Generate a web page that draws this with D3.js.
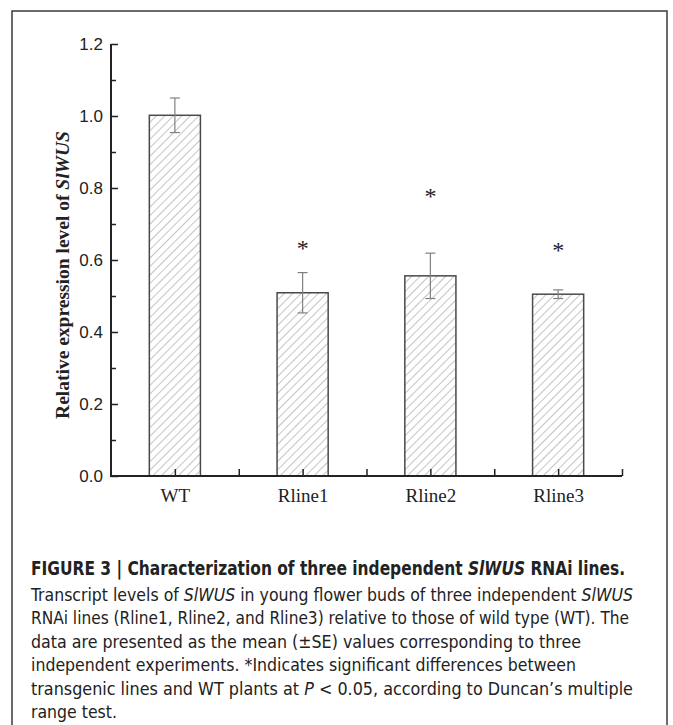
<!DOCTYPE html>
<html>
<head>
<meta charset="utf-8">
<script src="https://cdn.jsdelivr.net/npm/d3@7"></script>
<style>
  body { margin: 0; background: #fff; }
</style>
</head>
<body>
<script>
// chart values
var lines = ["WT", "Rline1", "Rline2", "Rline3"];
var means = [1.002, 0.509, 0.556, 0.505];
var errors = [0.048, 0.056, 0.063, 0.012];
var starAt = [null, 0.645, 0.79, 0.64];
var yTicks = [0.0, 0.2, 0.4, 0.6, 0.8, 1.0, 1.2];
var yMinor = [0.1, 0.3, 0.5, 0.7, 0.9, 1.1];
var xTicks = [1, 1.5, 2, 2.5, 3, 3.5, 4, 4.5];

var caption = [
  "Transcript levels of <i>SlWUS</i> in young flower buds of three independent <i>SlWUS</i>",
  "RNAi lines (Rline1, Rline2, and Rline3) relative to those of wild type (WT). The",
  "data are presented as the mean (±SE) values corresponding to three",
  "independent experiments. *Indicates significant differences between",
  "transgenic lines and WT plants at <i>P</i> &lt; 0.05, according to Duncan’s multiple",
  "range test."
];
var captionWidth = [602, 598, 550, 545, 602, 86];

var svg = d3.select("body").append("svg")
    .attr("width", 673)
    .attr("height", 725);

// hatch for the bars
var pat = svg.append("defs").append("pattern")
    .attr("id", "hatch")
    .attr("patternUnits", "userSpaceOnUse")
    .attr("width", 6)
    .attr("height", 6)
    .attr("patternTransform", "rotate(45)");
pat.append("rect").attr("width", 6).attr("height", 6).attr("fill", "#fff");
pat.append("line")
    .attr("x1", 0).attr("y1", 0).attr("x2", 0).attr("y2", 6)
    .attr("stroke", "#8a8a8a")
    .attr("stroke-width", 1);

svg.append("rect")
    .attr("x", 12).attr("y", 11)
    .attr("width", 655).attr("height", 740)
    .attr("fill", "none")
    .attr("stroke", "#3a3a3a")
    .attr("stroke-width", 1.5);

var x = d3.scaleLinear().domain([0.5, 4.5]).range([111, 622]);
var y = d3.scaleLinear().domain([0, 1.2]).range([476, 44]);
var barW = x(0.4) - x(0);

var g = svg.append("g");

// bars
g.selectAll("rect.bar")
    .data(means)
    .enter()
    .append("rect")
    .attr("class", "bar")
    .attr("x", function(d, i) { return x(i + 1) - barW / 2; })
    .attr("y", function(d) { return y(d); })
    .attr("width", barW)
    .attr("height", function(d) { return y(0) - y(d); })
    .attr("fill", "url(#hatch)")
    .attr("stroke", "#4a4a4a")
    .attr("stroke-width", 1.5);

// error bars
var eb = g.selectAll("g.err")
    .data(means)
    .enter()
    .append("g")
    .attr("class", "err")
    .attr("stroke", "#808080")
    .attr("stroke-width", 1.2);
eb.append("line")
    .attr("x1", function(d, i) { return x(i + 1); })
    .attr("x2", function(d, i) { return x(i + 1); })
    .attr("y1", function(d, i) { return y(d + errors[i]); })
    .attr("y2", function(d, i) { return y(d - errors[i]); });
eb.append("line")
    .attr("x1", function(d, i) { return x(i + 1) - 5; })
    .attr("x2", function(d, i) { return x(i + 1) + 5; })
    .attr("y1", function(d, i) { return y(d + errors[i]); })
    .attr("y2", function(d, i) { return y(d + errors[i]); });
eb.append("line")
    .attr("x1", function(d, i) { return x(i + 1) - 5; })
    .attr("x2", function(d, i) { return x(i + 1) + 5; })
    .attr("y1", function(d, i) { return y(d - errors[i]); })
    .attr("y2", function(d, i) { return y(d - errors[i]); });

// significance stars
g.selectAll("text.star")
    .data(starAt.filter(function(d) { return d != null; }))
    .enter()
    .append("text")
    .attr("class", "star")
    .attr("x", function(d) { return x(starAt.indexOf(d) + 1); })
    .attr("y", function(d) { return y(d) + 12; })
    .attr("text-anchor", "middle")
    .attr("font-family", "Liberation Serif, serif")
    .attr("font-size", 24)
    .attr("fill", "#222")
    .text("*");

// y axis
var yAxis = d3.axisLeft(y)
    .tickValues(yTicks)
    .tickFormat(d3.format(".1f"))
    .tickSizeInner(-7)
    .tickSizeOuter(0)
    .tickPadding(8);
var ya = svg.append("g")
    .attr("transform", "translate(111,0)")
    .call(yAxis);
ya.select(".domain").remove();
ya.selectAll("line").attr("stroke", "#222").attr("stroke-width", 1.5);
ya.selectAll("text")
    .attr("font-family", "Liberation Sans, Arial, sans-serif")
    .attr("font-size", 17)
    .attr("fill", "#222");

var ym = svg.append("g")
    .attr("transform", "translate(111,0)")
    .call(d3.axisLeft(y).tickValues(yMinor).tickSizeInner(-5).tickSizeOuter(0).tickFormat(""));
ym.select(".domain").remove();
ym.selectAll("line").attr("stroke", "#222").attr("stroke-width", 1.5);

// x axis
var xAxis = d3.axisBottom(x)
    .tickValues(xTicks)
    .tickSizeInner(-7)
    .tickSizeOuter(0)
    .tickPadding(13)
    .tickFormat(function(d) { return Number.isInteger(d) ? lines[d - 1] : ""; });
var xa = svg.append("g")
    .attr("transform", "translate(0,476)")
    .call(xAxis);
xa.select(".domain").remove();
xa.selectAll("line").attr("stroke", "#222").attr("stroke-width", 1.5);
xa.selectAll("text")
    .attr("font-family", "Liberation Serif, Times New Roman, serif")
    .attr("font-size", 19)
    .attr("fill", "#222");

// axis lines
svg.append("path")
    .attr("d", "M" + x(0.5) + "," + y(1.2) + "V" + y(0) + "H" + x(4.5))
    .attr("fill", "none")
    .attr("stroke", "#222")
    .attr("stroke-width", 2);

svg.append("text")
    .attr("transform", "translate(69," + (y(0.6) + 15) + ") rotate(-90)")
    .attr("text-anchor", "middle")
    .attr("font-family", "Liberation Serif, Times New Roman, serif")
    .attr("font-size", 19.5)
    .attr("font-weight", "bold")
    .attr("fill", "#222")
    .html("Relative expression level of <tspan font-style='italic'>SlWUS</tspan>");

// caption
var cap = svg.append("g")
    .attr("font-family", "Liberation Sans Narrow, DejaVu Sans Condensed, Arial, sans-serif")
    .attr("fill", "#222");

cap.append("text")
    .attr("x", 31)
    .attr("y", 575)
    .attr("font-size", 20)
    .attr("font-weight", "bold")
    .attr("textLength", 594)
    .attr("lengthAdjust", "spacingAndGlyphs")
    .html("FIGURE 3 | Characterization of three independent <tspan font-style='italic'>SlWUS</tspan> RNAi lines.");

cap.selectAll("text.body")
    .data(caption)
    .enter()
    .append("text")
    .attr("class", "body")
    .attr("x", 31)
    .attr("y", function(d, i) { return 601 + i * 23.4; })
    .attr("font-size", 18)
    .attr("textLength", function(d, i) { return captionWidth[i]; })
    .attr("lengthAdjust", "spacingAndGlyphs")
    .html(function(d) { return d.replace(/<i>/g, "<tspan font-style='italic'>").replace(/<\/i>/g, "</tspan>"); });
</script>
</body>
</html>
